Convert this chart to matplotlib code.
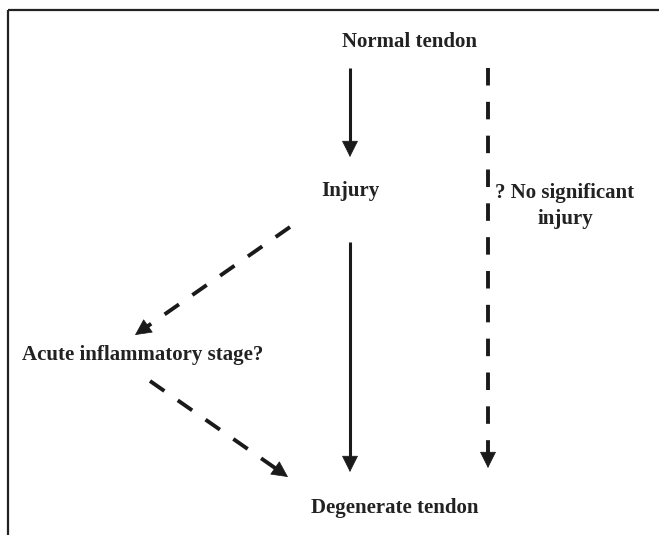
import matplotlib
matplotlib.use('Agg')
import matplotlib.pyplot as plt

plt.rcParams['font.family'] = ['Liberation Serif', 'DejaVu Serif']

# node labels of the flow diagram
labels = ['Normal tendon', 'Injury', '? No significant\ninjury',
          'Acute inflammatory stage?', 'Degenerate tendon']
# links between nodes: (start, end, dashed)
links = [((350, 68), (350, 157), False),
         ((350, 242), (350, 472), False),
         ((488, 68), (488, 468), True),
         ((290, 227), (135, 335), True),
         ((150, 381), (288, 477), True)]

fig = plt.figure(figsize=(6.59, 5.35), dpi=100)
ax = fig.add_axes([0, 0, 1, 1])
ax.set_xlim(0, 659)
ax.set_ylim(535, 0)
ax.axis('off')

# frame: top and left only
ax.plot([8, 659], [9.5, 9.5], color='#222222', lw=1.6, solid_capstyle='butt')
ax.plot([8, 8], [9.5, 535], color='#222222', lw=1.6, solid_capstyle='butt')

text_kw = dict(fontsize=15, fontweight='bold', color='#222222')
ax.text(410, 42, labels[0], ha='center', va='center', **text_kw)
ax.text(350, 191, labels[1], ha='center', va='center', **text_kw)
ax.text(565, 206, labels[2], ha='center', va='center', linespacing=1.45, **text_kw)
ax.text(22, 355, labels[3], ha='left', va='center', **text_kw)
ax.text(395, 508, labels[4], ha='center', va='center', **text_kw)

for (x0, y0), (x1, y1), dashed in links:
    # shaft stops short of the tip, head drawn separately
    L = ((x1 - x0) ** 2 + (y1 - y0) ** 2) ** 0.5
    ux, uy = (x1 - x0) / L, (y1 - y0) / L
    hx, hy = x1 - ux * 10, y1 - uy * 10
    if dashed:
        ax.plot([x0, hx], [y0, hy], color='#1a1a1a', lw=2.8,
                dashes=(4.5, 4.2), solid_capstyle='butt', dash_capstyle='butt')
    else:
        ax.plot([x0, hx], [y0, hy], color='#1a1a1a', lw=2.2, solid_capstyle='butt')
    ax.annotate('', xy=(x1, y1), xytext=(x1 - ux * 16, y1 - uy * 16),
                arrowprops=dict(arrowstyle='-|>,head_length=0.72,head_width=0.36',
                                mutation_scale=15, color='#1a1a1a', lw=0.5,
                                shrinkA=0, shrinkB=0))

fig.savefig('out.png', dpi=100)
